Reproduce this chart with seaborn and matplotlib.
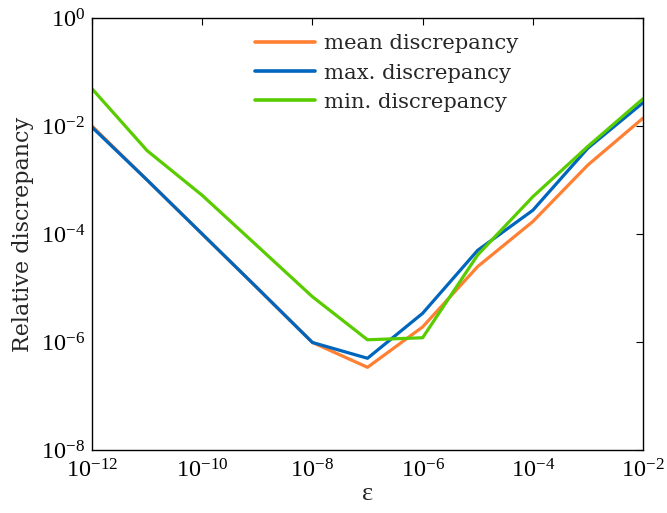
import numpy as np
import pandas as pd
import matplotlib
matplotlib.use("Agg")
import matplotlib.pyplot as plt
import seaborn as sns
from matplotlib.ticker import FixedLocator, LogFormatterSciNotation, NullLocator

# Perturbation size epsilon and the relative discrepancy statistics
eps = [1e-12, 1e-11, 1e-10, 1e-9, 1e-8, 1e-7, 1e-6, 1e-5, 1e-4, 1e-3, 1e-2]
mean_disc = [1.0e-2, 1.0e-3, 1.0e-4, 1.0e-5, 9.8e-7, 3.4e-7, 1.9e-6, 2.5e-5, 1.7e-4, 1.9e-3, 1.4e-2]
max_disc = [9.5e-3, 1.0e-3, 1.0e-4, 1.0e-5, 9.8e-7, 5.0e-7, 3.4e-6, 5.0e-5, 2.75e-4, 3.9e-3, 2.7e-2]
min_disc = [4.9e-2, 3.5e-3, 5.2e-4, 6.0e-5, 6.9e-6, 1.1e-6, 1.2e-6, 4.1e-5, 4.9e-4, 4.2e-3, 3.2e-2]

series_names = ["mean discrepancy", "max. discrepancy", "min. discrepancy"]
colors = ["#FF8033", "#0066BD", "#59CC00"]

x_ticks = [1e-12, 1e-10, 1e-8, 1e-6, 1e-4, 1e-2]
y_ticks = [1e-8, 1e-6, 1e-4, 1e-2, 1e0]

df = pd.DataFrame({
    "eps": eps * 3,
    "value": mean_disc + max_disc + min_disc,
    "series": [series_names[0]] * len(eps) + [series_names[1]] * len(eps) + [series_names[2]] * len(eps),
})

sns.set_theme(style="white")
plt.rcParams["font.family"] = ["Liberation Serif", "DejaVu Serif"]
plt.rcParams["mathtext.fontset"] = "custom"
plt.rcParams["mathtext.rm"] = "Liberation Serif"
plt.rcParams["mathtext.it"] = "Liberation Serif:italic"

wide_serif = ["DejaVu Serif"]

fig = plt.figure(figsize=(6.67, 5.13), dpi=100)
ax = fig.add_axes([0.138, 0.1228, 0.826, 0.842])

sns.lineplot(data=df, x="eps", y="value", hue="series", hue_order=series_names,
             palette=colors, linewidth=2.3, ax=ax, legend=True)

ax.set_xscale("log")
ax.set_yscale("log")
ax.set_xlim(1e-12, 1e-2)
ax.set_ylim(1e-8, 1e0)

ax.xaxis.set_major_locator(FixedLocator(x_ticks))
ax.yaxis.set_major_locator(FixedLocator(y_ticks))
ax.xaxis.set_major_formatter(LogFormatterSciNotation())
ax.yaxis.set_major_formatter(LogFormatterSciNotation())
ax.xaxis.set_minor_locator(NullLocator())
ax.yaxis.set_minor_locator(NullLocator())

ax.tick_params(axis="both", which="major", direction="in", length=5, width=0.8,
               top=True, right=True, labelsize=17.5, colors="black")
ax.tick_params(axis="y", pad=5)
ax.tick_params(axis="x", pad=7)
for sp in ax.spines.values():
    sp.set_visible(True)
    sp.set_color("black")
    sp.set_linewidth(1.0)

ax.set_xlabel("ε", fontsize=19, labelpad=0)
ax.set_ylabel("Relative discrepancy", fontsize=16, labelpad=5, family=wide_serif)

leg = ax.legend(loc="upper left", bbox_to_anchor=(0.296, 0.962), frameon=False,
                prop={"family": wide_serif, "size": 15.2},
                handlelength=2.85, handletextpad=0.4,
                labelspacing=0.48, borderaxespad=0, borderpad=0)
for line in leg.get_lines():
    line.set_linewidth(2.6)

fig.savefig("out.png", dpi=100)
